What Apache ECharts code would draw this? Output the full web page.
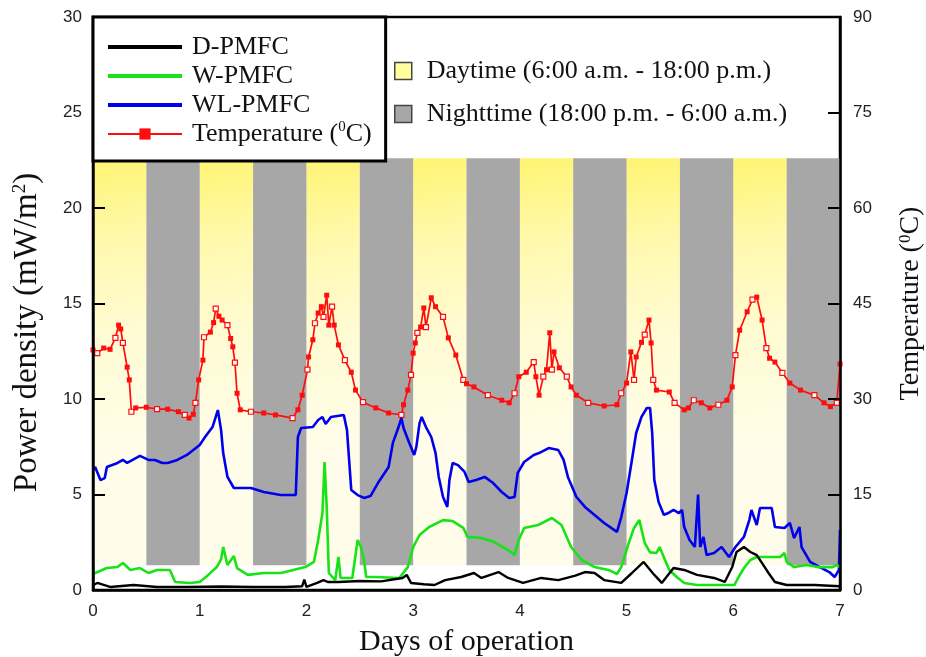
<!DOCTYPE html>
<html>
<head>
<meta charset="utf-8">
<script src="https://cdn.jsdelivr.net/npm/echarts@6/dist/echarts.min.js"></script>
<style>
  html, body { margin: 0; padding: 0; background: #ffffff; }
  #chart { width: 926px; height: 657px; }
</style>
</head>
<body>
<div id="chart"></div>
<script>
// Power density (mW/m2) of three plant microbial fuel cells and soil temperature over 7 days

// Day / night shading (days of operation)
const dayStarts = [0, 1, 2, 3, 4, 5, 6];
const nightStarts = [0.5, 1.5, 2.5, 3.5, 4.5, 5.5, 6.5];
const halfDay = 0.5;
const bandBottom = 1.3;   // mW/m2
const bandTop = 22.6;     // mW/m2

const dayName = 'Daytime (6:00 a.m. - 18:00 p.m.)';
const nightName = 'Nighttime (18:00 p.m. - 6:00 a.m.)';

// Temperature (°C)
const tempDays = [0.00,0.04,0.10,0.16,0.21,0.24,0.26,0.28,0.32,0.34,0.36,0.40,0.50,0.60,0.70,0.80,0.86,0.90,0.94,0.96,0.99,
  1.03,1.04,1.10,1.13,1.15,1.18,1.21,1.26,1.29,1.31,1.33,1.35,1.38,1.48,1.60,1.71,1.87,1.92,1.96,
  2.01,2.02,2.06,2.08,2.11,2.14,2.16,2.19,2.21,2.24,2.26,2.30,2.36,2.42,2.46,2.53,2.65,2.77,2.89,2.91,2.95,2.98,
  3.00,3.02,3.04,3.07,3.10,3.12,3.17,3.21,3.28,3.33,3.40,3.47,3.50,3.57,3.70,3.83,3.90,3.95,3.99,
  4.06,4.13,4.15,4.18,4.22,4.25,4.28,4.30,4.32,4.37,4.44,4.48,4.53,4.64,4.79,4.91,4.95,
  5.00,5.04,5.07,5.09,5.14,5.17,5.21,5.23,5.25,5.28,5.40,5.45,5.54,5.58,5.63,5.70,5.78,5.86,5.94,5.99,
  6.02,6.06,6.13,6.18,6.22,6.27,6.31,6.34,6.39,6.46,6.53,6.63,6.76,6.85,6.91,6.97,7.00];
const tempC = [37.7,37.2,38.0,37.8,39.6,41.6,41.0,38.8,35.0,33.0,28.0,28.6,28.7,28.4,28.4,28.0,27.5,27.0,27.6,29.4,33.0,
  36.1,39.7,40.5,42.0,44.2,43.0,42.4,41.6,39.5,38.2,35.7,30.9,28.3,28.0,27.8,27.5,27.0,28.3,30.6,
  34.6,36.6,39.3,41.9,43.5,44.5,42.9,46.3,41.6,44.5,41.6,38.5,36.1,34.2,31.4,29.5,28.6,27.8,27.5,29.1,31.4,33.8,
  37.2,38.8,40.4,41.3,44.3,41.3,45.9,44.5,42.9,39.6,36.9,33.0,32.4,31.9,30.6,29.8,29.4,30.9,33.5,
  34.2,35.8,33.5,30.6,33.5,34.6,40.4,34.6,37.4,34.9,33.5,31.9,30.6,29.4,28.9,29.1,30.9,
  32.5,37.4,33.0,36.6,38.9,40.1,42.4,38.8,33.0,31.4,31.1,29.4,28.3,28.6,29.8,29.4,28.6,29.1,29.8,31.9,
  36.9,40.8,43.7,45.6,46.0,42.4,38.0,36.4,35.8,34.1,32.5,31.4,30.6,29.4,28.8,29.4,35.5];

// WL-PMFC power density (mW/m2)
const wlDays = [0.00,0.02,0.07,0.11,0.13,0.23,0.28,0.32,0.44,0.52,0.58,0.65,0.70,0.79,0.88,0.94,
  1.00,1.05,1.12,1.17,1.20,1.22,1.26,1.32,1.38,1.48,1.60,1.76,1.90,1.92,1.95,
  2.06,2.11,2.15,2.18,2.23,2.35,2.38,2.42,2.48,2.54,2.60,2.67,2.72,2.77,2.81,2.86,2.89,2.91,2.96,
  3.01,3.03,3.06,3.08,3.12,3.17,3.21,3.24,3.28,3.32,3.34,3.37,3.42,3.48,3.52,3.59,3.67,3.75,3.83,3.90,3.95,3.98,
  4.04,4.13,4.18,4.27,4.36,4.41,4.45,4.53,4.61,4.70,4.79,4.91,4.95,
  5.00,5.05,5.09,5.14,5.19,5.22,5.24,5.26,5.30,5.35,5.39,5.44,5.49,5.52,5.54,5.59,5.64,5.67,5.69,5.72,5.75,5.82,5.89,5.96,
  6.02,6.10,6.15,6.17,6.22,6.25,6.36,6.39,6.48,6.53,6.57,6.62,6.64,6.72,6.81,6.90,6.95,6.99,7.00];
const wlPower = [6.30,6.44,5.76,5.86,6.44,6.65,6.81,6.65,7.02,6.81,6.81,6.65,6.65,6.81,7.07,7.33,
  7.59,8.01,8.53,9.42,8.38,7.17,5.92,5.34,5.34,5.34,5.13,4.97,4.97,8.01,8.48,
  8.53,8.90,9.06,8.69,9.06,9.16,8.38,5.24,4.97,4.82,4.92,5.60,6.02,6.44,7.70,8.48,9.01,8.48,7.75,
  7.07,7.49,8.74,9.06,8.53,8.01,7.17,5.92,4.87,4.35,5.76,6.65,6.54,6.20,5.65,5.76,5.92,5.60,5.13,4.82,4.87,6.13,
  6.70,7.07,7.17,7.43,7.33,6.81,5.92,4.87,4.35,3.93,3.51,3.04,3.82,
  5.08,6.81,8.22,9.06,9.53,9.53,8.22,5.76,4.61,3.93,4.03,4.19,4.03,4.19,3.30,2.62,2.25,5.00,2.25,2.78,1.83,1.94,2.25,1.73,
  2.25,2.78,3.66,4.19,3.40,4.29,4.29,3.30,3.25,3.51,2.72,3.30,2.25,1.47,1.20,0.94,0.68,1.05,3.14];

// W-PMFC power density (mW/m2)
const wDays = [0.00,0.02,0.13,0.23,0.28,0.35,0.44,0.52,0.60,0.72,0.77,0.91,
  1.00,1.08,1.16,1.20,1.22,1.26,1.32,1.35,1.45,1.60,1.76,1.80,1.99,
  2.07,2.11,2.15,2.17,2.19,2.21,2.27,2.30,2.32,2.43,2.48,2.51,2.54,2.56,2.65,2.87,2.95,
  3.00,3.06,3.15,3.28,3.37,3.47,3.51,3.64,3.76,3.89,3.95,3.99,
  4.04,4.17,4.30,4.39,4.48,4.58,4.70,4.83,4.91,4.95,
  5.02,5.07,5.12,5.17,5.22,5.28,5.31,5.36,5.40,5.47,5.54,5.66,5.82,
  6.01,6.05,6.10,6.16,6.22,6.44,6.48,6.50,6.57,6.69,6.79,6.86,6.93,6.97,7.00];
const wPower = [0.85,0.89,1.15,1.20,1.41,1.05,1.15,0.89,1.05,1.05,0.42,0.37,
  0.42,0.79,1.20,1.60,2.25,1.31,1.78,1.15,0.79,0.89,0.89,0.94,1.20,
  1.47,2.62,4.03,6.70,4.35,0.89,0.52,1.73,0.63,0.63,2.62,2.25,1.57,0.68,0.68,0.63,1.20,
  2.25,2.88,3.30,3.66,3.61,3.25,2.78,2.72,2.51,2.09,1.83,2.62,
  3.25,3.40,3.77,3.40,2.25,1.57,1.20,1.05,0.84,1.20,
  2.46,3.25,3.66,2.46,1.97,1.94,2.25,1.57,1.05,0.68,0.37,0.26,0.26,
  0.26,0.68,1.15,1.57,1.73,1.73,1.94,1.47,1.20,1.31,1.20,1.20,1.20,1.31,1.20];

// D-PMFC power density (mW/m2)
const dDays = [0.00,0.04,0.16,0.38,0.60,0.90,1.20,1.50,1.80,1.96,1.98,2.00,
  2.10,2.16,2.20,2.30,2.50,2.70,2.90,2.94,2.98,3.10,3.20,3.30,3.45,3.57,3.64,3.80,3.89,
  4.03,4.20,4.36,4.52,4.61,4.70,4.79,4.95,5.05,5.16,5.26,5.33,5.44,5.54,5.66,5.82,5.92,5.99,
  6.03,6.10,6.16,6.22,6.27,6.33,6.39,6.50,6.76,7.00];
const dPower = [0.25,0.37,0.16,0.26,0.16,0.16,0.18,0.16,0.16,0.20,0.55,0.16,
  0.37,0.52,0.42,0.42,0.47,0.45,0.63,0.79,0.37,0.30,0.26,0.52,0.68,0.89,0.63,0.94,0.63,
  0.37,0.63,0.52,0.75,0.94,0.89,0.52,0.37,0.89,1.47,0.79,0.37,1.15,1.05,0.79,0.63,0.42,1.20,
  1.99,2.25,1.99,1.83,1.41,0.89,0.42,0.26,0.26,0.20];

const zip = (xs, ys) => xs.map((x, i) => [x, ys[i]]);

// temperature markers alternate between filled and open squares
const tempPoints = zip(tempDays, tempC).map((p, i) => (i % 3 === 1)
  ? { value: p, itemStyle: { color: '#ffffff', borderColor: '#ff0d0d', borderWidth: 1.2 } }
  : { value: p });

const serif = 'Liberation Serif';
const sans = 'Liberation Sans';
const ink = '#111111';

const dayFill = new echarts.graphic.LinearGradient(0, 0, 0.9, 0.7, [
  { offset: 0, color: '#fff472' },
  { offset: 0.3, color: '#fff9ae' },
  { offset: 0.6, color: '#fffbd2' },
  { offset: 1, color: '#fffde9' }
]);
const nightFill = '#a7a7a7';

const bandAreas = (starts) => starts.map(s => [
  { xAxis: s, yAxis: bandBottom },
  { xAxis: s + halfDay, yAxis: bandTop }
]);

// plain-line legend entries (thick line, no marker dot)
const plainLine = name => ({ name, itemStyle: { opacity: 0 }, lineStyle: { width: 4 } });

const chart = echarts.init(document.getElementById('chart'), null, { renderer: 'canvas' });

chart.setOption({
  animation: false,
  backgroundColor: '#ffffff',
  grid: {
    left: 93, right: 86, top: 17, bottom: 67,
    outerBoundsMode: 'none', containLabel: false,
    show: true, borderColor: '#000', borderWidth: 2.5, backgroundColor: '#ffffff'
  },
  legend: [
    {
      orient: 'vertical',
      left: 93, top: 17, z: 20,
      data: [plainLine('D-PMFC'), plainLine('W-PMFC'), plainLine('WL-PMFC'),
        { name: 'Temperature', lineStyle: { width: 2 } }],
      itemWidth: 74, itemHeight: 14, itemGap: 1,
      padding: [16, 14, 13, 13],
      borderColor: '#000', borderWidth: 3, backgroundColor: '#ffffff',
      selectedMode: false,
      formatter: name => name === 'Temperature' ? 'Temperature ({sup|0}C)' : name,
      textStyle: {
        fontFamily: serif, fontSize: 26, color: ink, lineHeight: 28, padding: [0, 0, 0, 5],
        rich: { sup: { fontFamily: serif, fontSize: 15, color: ink, verticalAlign: 'top', lineHeight: 18 } }
      }
    },
    {
      orient: 'vertical',
      left: 394, top: 57, z: 20,
      padding: 0,
      selectedMode: false,
      itemWidth: 17, itemHeight: 17, itemGap: 15,
      data: [
        { name: dayName, icon: 'rect', itemStyle: { color: '#ffff9c', borderColor: '#444', borderWidth: 1.5 } },
        { name: nightName, icon: 'rect', itemStyle: { color: '#a7a7a7', borderColor: '#444', borderWidth: 1.5 } }
      ],
      textStyle: { fontFamily: serif, fontSize: 26, color: ink, lineHeight: 28, padding: [0, 0, 0, 10] }
    }
  ],
  xAxis: {
    type: 'value', min: 0, max: 7, interval: 1, z: 10,
    axisLine: { show: true, lineStyle: { color: '#000', width: 2.5 } },
    axisTick: { show: false },
    splitLine: { show: false },
    axisLabel: { fontFamily: sans, fontSize: 17, color: '#222', margin: 13 },
    name: 'Days of operation', nameLocation: 'middle', nameGap: 37,
    nameTextStyle: { fontFamily: serif, fontSize: 30, color: ink }
  },
  yAxis: [
    {
      type: 'value', min: 0, max: 30, interval: 5, position: 'left', z: 10,
      axisLine: { show: true, lineStyle: { color: '#000', width: 2.5 } },
      axisTick: { show: true, inside: true, length: 12, lineStyle: { color: '#000', width: 2 } },
      splitLine: { show: false },
      axisLabel: { fontFamily: sans, fontSize: 17, color: '#222', margin: 11 },
      name: 'Power density (mW/m{sup|2})', nameLocation: 'middle', nameRotate: 90, nameGap: 49,
      nameTextStyle: {
        fontFamily: serif, fontSize: 33, color: ink, padding: [0, 58, 0, 0],
        rich: { sup: { fontFamily: serif, fontSize: 19, color: ink, verticalAlign: 'top', lineHeight: 20 } }
      }
    },
    {
      type: 'value', min: 0, max: 90, interval: 15, position: 'right', z: 10,
      axisLine: { show: true, lineStyle: { color: '#000', width: 2.5 } },
      axisTick: { show: true, inside: true, length: 12, lineStyle: { color: '#000', width: 2 } },
      splitLine: { show: false },
      axisLabel: { fontFamily: sans, fontSize: 17, color: '#222', margin: 13 },
      name: 'Temperature ({sup|0}C)', nameLocation: 'middle', nameRotate: 90, nameGap: 57,
      nameTextStyle: {
        fontFamily: serif, fontSize: 28, color: ink,
        rich: { sup: { fontFamily: serif, fontSize: 17, color: ink, verticalAlign: 'top', lineHeight: 18 } }
      }
    }
  ],
  series: [
    {
      name: dayName, type: 'line', data: [], z: 1, silent: true,
      itemStyle: { color: '#ffff9c' },
      markArea: { silent: true, itemStyle: { color: dayFill }, data: bandAreas(dayStarts) }
    },
    {
      name: nightName, type: 'line', data: [], z: 1, silent: true,
      itemStyle: { color: nightFill },
      markArea: { silent: true, itemStyle: { color: nightFill }, data: bandAreas(nightStarts) }
    },
    {
      name: 'Temperature', type: 'line', yAxisIndex: 1, z: 3,
      data: tempPoints,
      symbol: 'rect', symbolSize: 5, showSymbol: true, showAllSymbol: true,
      lineStyle: { color: '#ff0d0d', width: 1.7 },
      itemStyle: { color: '#ff0d0d' }
    },
    {
      name: 'WL-PMFC', type: 'line', z: 4, symbol: 'none',
      data: zip(wlDays, wlPower),
      lineStyle: { color: '#0000ee', width: 2.6 }, itemStyle: { color: '#0000ee' }
    },
    {
      name: 'W-PMFC', type: 'line', z: 4, symbol: 'none',
      data: zip(wDays, wPower),
      lineStyle: { color: '#17e317', width: 2.6 }, itemStyle: { color: '#17e317' }
    },
    {
      name: 'D-PMFC', type: 'line', z: 5, symbol: 'none',
      data: zip(dDays, dPower),
      lineStyle: { color: '#000000', width: 2.4 }, itemStyle: { color: '#000000' }
    }
  ]
});
</script>
</body>
</html>
